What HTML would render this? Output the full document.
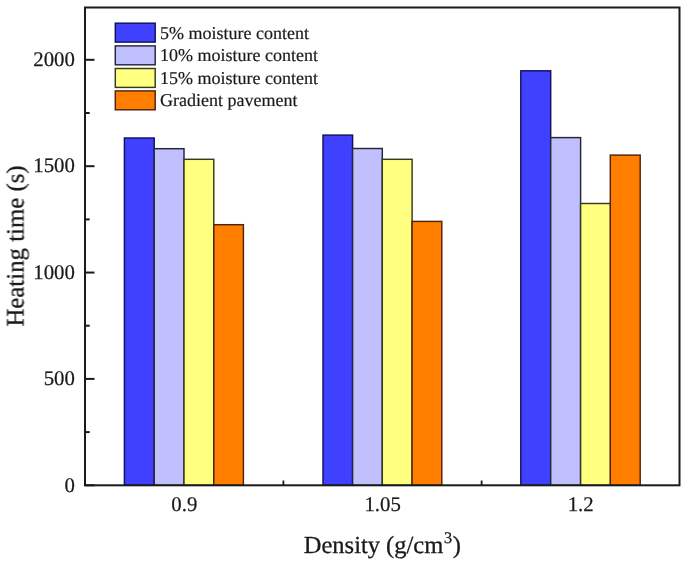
<!DOCTYPE html>
<html><head><meta charset="utf-8">
<style>
html,body{margin:0;padding:0;background:#fff;}
body{width:685px;height:561px;overflow:hidden;}
svg{display:block;}
text{font-family:"Liberation Serif",serif;fill:#1a1a1a;text-rendering:geometricPrecision;}
</style></head>
<body>
<svg width="685" height="561" viewBox="0 0 685 561">
<rect x="0" y="0" width="685" height="561" fill="#fff"/>
<!-- bars group 1 -->
<g stroke="#111" stroke-width="1.45">
<rect x="124.4" y="138" width="29.8" height="347.3" fill="#4040ff" stroke="#12125e"/>
<rect x="154.2" y="148.7" width="29.8" height="336.6" fill="#c0c0ff" stroke="#25253a"/>
<rect x="184" y="159.3" width="29.8" height="326" fill="#ffff80" stroke="#383824"/>
<rect x="213.8" y="224.7" width="29.6" height="260.6" fill="#ff7e00" stroke="#4e2410"/>
<!-- group 2 -->
<rect x="323" y="135.1" width="29.6" height="350.2" fill="#4040ff" stroke="#12125e"/>
<rect x="352.6" y="148.5" width="29.7" height="336.8" fill="#c0c0ff" stroke="#25253a"/>
<rect x="382.3" y="159.3" width="29.8" height="326" fill="#ffff80" stroke="#383824"/>
<rect x="412.1" y="221.4" width="29.7" height="263.9" fill="#ff7e00" stroke="#4e2410"/>
<!-- group 3 -->
<rect x="520.8" y="70.8" width="29.9" height="414.5" fill="#4040ff" stroke="#12125e"/>
<rect x="550.7" y="137.6" width="29.9" height="347.7" fill="#c0c0ff" stroke="#25253a"/>
<rect x="580.6" y="203.5" width="29.9" height="281.8" fill="#ffff80" stroke="#383824"/>
<rect x="610.3" y="155.1" width="29.9" height="330.2" fill="#ff7e00" stroke="#4e2410"/>
</g>
<!-- legend -->
<g stroke="#111" stroke-width="1.45">
<rect x="115.3" y="23.2" width="39.9" height="18.9" fill="#4040ff" stroke="#12125e"/>
<rect x="115.3" y="45.9" width="39.9" height="18.9" fill="#c0c0ff" stroke="#25253a"/>
<rect x="115.3" y="68.5" width="39.9" height="18.9" fill="#ffff80" stroke="#383824"/>
<rect x="115.3" y="90.9" width="39.9" height="18.9" fill="#ff7e00" stroke="#4e2410"/>
</g>
<!-- frame -->
<rect x="85" y="7.5" width="594.5" height="477.8" fill="none" stroke="#1a1a1a" stroke-width="2"/>
<!-- y ticks -->
<g stroke="#1a1a1a" stroke-width="2">
<line x1="85" y1="485.3" x2="94.5" y2="485.3"/>
<line x1="85" y1="378.9" x2="94.5" y2="378.9"/>
<line x1="85" y1="272.55" x2="94.5" y2="272.55"/>
<line x1="85" y1="166.2" x2="94.5" y2="166.2"/>
<line x1="85" y1="59.8" x2="94.5" y2="59.8"/>
<line x1="85" y1="432.1" x2="89.7" y2="432.1"/>
<line x1="85" y1="325.7" x2="89.7" y2="325.7"/>
<line x1="85" y1="219.4" x2="89.7" y2="219.4"/>
<line x1="85" y1="113" x2="89.7" y2="113"/>
<line x1="283.4" y1="485" x2="283.4" y2="480.5" stroke-width="1.8"/>
<line x1="481.6" y1="485" x2="481.6" y2="480.5" stroke-width="1.8"/>
</g>
<g opacity="0.999">
<g font-size="18" stroke="#1a1a1a" stroke-width="0.2">
<text x="160" y="38.6">5% moisture content</text>
<text x="160" y="61">10% moisture content</text>
<text x="160" y="83.5">15% moisture content</text>
<text x="160" y="105.7">Gradient pavement</text>
</g>
<g font-size="20.8" text-anchor="end" stroke="#1a1a1a" stroke-width="0.25">
<text x="74.9" y="66">2000</text>
<text x="74.9" y="172.4">1500</text>
<text x="74.9" y="278.7">1000</text>
<text x="74.9" y="385.1">500</text>
<text x="74.9" y="491.5">0</text>
</g>
<g font-size="20.8" text-anchor="middle" stroke="#1a1a1a" stroke-width="0.25">
<text x="184.3" y="511">0.9</text>
<text x="382.6" y="511">1.05</text>
<text x="580.7" y="511">1.2</text>
</g>
<text x="382.4" y="553.2" font-size="24.5" text-anchor="middle" stroke="#1a1a1a" stroke-width="0.3">Density (g/cm<tspan font-size="16.3" dx="0.8" dy="-10.5">3</tspan><tspan dx="0.6" dy="10.5">)</tspan></text>
<text transform="translate(23.5,246) rotate(-90)" font-size="24.8" text-anchor="middle" stroke="#1a1a1a" stroke-width="0.3">Heating time (s)</text>
</g>
</svg>
</body></html>
